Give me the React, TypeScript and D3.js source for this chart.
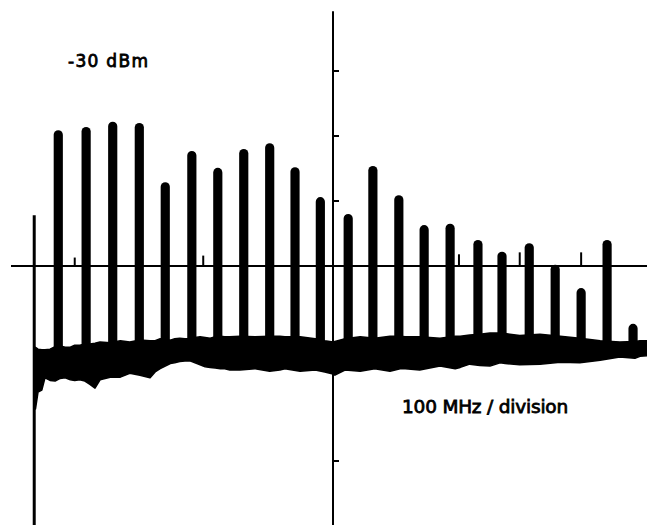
import { scaleLinear, area as d3Area, curveLinear } from "d3";

// spectrum analyser trace, 100 MHz / division, 10 dB / division
const spikeFreq = [
  66, 110, 152, 194, 235, 277, 318, 359, 400, 440, 480, 524, 563, 604, 644, 685,
  729, 767, 810, 851, 892, 933, 974,
];
const spikeLevel = [
  -49.1, -48.6, -47.8, -48.0, -57.1, -52.3, -54.9, -52.0, -51.1, -54.8, -59.4,
  -62.0, -54.6, -59.1, -63.7, -63.5, -66.0, -67.8, -66.5, -69.8, -73.4, -66.0,
  -78.9,
];

// small spurs sitting on the reference line
const spurFreq = [92, 295, 699, 795, 892];
const spurLevel = [-68.7, -68.4, -68.2, -67.9, -67.9];

// start of sweep
const startFreq = 28;
const startLevel = -62.2;

// noise floor band
const noiseFreq = [
  30, 34, 40, 45, 53, 61, 69, 77, 85, 92, 100, 108, 116, 124, 132, 148, 164, 179,
  195, 211, 219, 227, 235, 243, 250, 258, 266, 274, 282, 290, 298, 306, 314, 322,
  329, 337, 353, 377, 400, 416, 424, 448, 472, 487, 500, 503, 519, 543, 566, 590,
  606, 614, 637, 669, 693, 701, 716, 732, 748, 764, 772, 795, 827, 859, 890, 922,
  953, 977, 985, 996,
];
const noiseTop = [
  -82.5, -82.8, -82.9, -82.9, -82.8, -82.4, -82.3, -82.5, -82.5, -82.2, -82.2,
  -82.0, -82.0, -81.9, -81.7, -81.8, -81.5, -81.7, -81.4, -81.5, -81.5, -81.2,
  -81.4, -81.4, -81.2, -81.1, -81.2, -81.2, -81.0, -80.9, -81.0, -81.1, -80.9,
  -80.8, -80.9, -80.9, -80.8, -80.9, -80.8, -80.8, -80.9, -80.9, -81.2, -81.5,
  -81.7, -81.6, -81.2, -80.9, -81.1, -80.8, -80.8, -80.9, -80.9, -81.1, -80.8,
  -80.8, -80.6, -80.5, -80.3, -80.3, -80.4, -80.7, -80.5, -80.8, -81.1, -81.5,
  -81.7, -81.6, -81.5, -81.5,
];
const noiseBottom = [
  -92.0, -89.4, -89.1, -87.2, -87.6, -87.7, -87.3, -87.2, -87.5, -87.6, -87.5,
  -87.7, -88.2, -88.8, -87.5, -87.1, -87.1, -86.5, -86.8, -87.2, -86.3, -85.8,
  -85.4, -85.0, -84.9, -84.7, -84.6, -84.6, -84.9, -85.2, -85.5, -85.6, -85.7,
  -85.8, -85.8, -86.0, -86.0, -85.8, -86.2, -86.0, -85.8, -86.2, -86.0, -86.3,
  -86.6, -86.8, -86.0, -86.2, -85.8, -86.2, -85.8, -85.8, -86.0, -85.4, -85.8,
  -85.6, -85.1, -85.3, -85.4, -84.9, -85.0, -85.2, -85.1, -84.8, -84.9, -84.5,
  -84.0, -84.2, -83.9, -83.8,
];

const refLevel = -70;
const centerFreq = 500;
const levelTicks = [-40, -50, -60, -100];
const topLabel = "-30 dBm";
const spanLabel = "100 MHz / division";

export default function App() {
  const width = 647;
  const height = 525;

  const xScale = scaleLinear().domain([0, 1000]).range([16.5, 649.5]);
  const yScale = scaleLinear().domain([-30, -110]).range([6, 526]);

  const bandwidth = 14.5;
  const spikeBase = -84;

  const noise = noiseFreq.map((f, i) => ({
    f,
    top: noiseTop[i],
    bottom: noiseBottom[i],
  }));
  const noiseArea = d3Area<{ f: number; top: number; bottom: number }>()
    .x((d) => xScale(d.f))
    .y0((d) => yScale(d.bottom))
    .y1((d) => yScale(d.top))
    .curve(curveLinear);

  const spikePath = (f: number, level: number) => {
    const x0 = xScale(f - bandwidth / 2);
    const x1 = xScale(f + bandwidth / 2);
    const r = (x1 - x0) / 2;
    const top = yScale(level);
    const bottom = yScale(spikeBase);
    return `M${x0},${bottom} L${x0},${top + r} A${r},${r} 0 0 1 ${x1},${top + r} L${x1},${bottom} Z`;
  };

  const xCenter = xScale(centerFreq);

  return (
    <svg
      width={width}
      height={height}
      style={{ position: "absolute", left: 0, top: 0, background: "#fff" }}
    >
      {/* reference line */}
      <line
        x1={11}
        x2={width}
        y1={yScale(refLevel)}
        y2={yScale(refLevel)}
        stroke="#000"
        strokeWidth={2}
      />

      {/* centre graticule line */}
      <line
        x1={xCenter}
        x2={xCenter}
        y1={yScale(-30.8)}
        y2={height}
        stroke="#000"
        strokeWidth={2}
      />
      {levelTicks.map((t) => (
        <line
          key={`tick-${t}`}
          x1={xCenter}
          x2={xCenter + 6}
          y1={yScale(t)}
          y2={yScale(t)}
          stroke="#000"
          strokeWidth={2}
        />
      ))}

      {/* sweep start */}
      <line
        x1={xScale(startFreq)}
        x2={xScale(startFreq)}
        y1={yScale(startLevel)}
        y2={height}
        stroke="#000"
        strokeWidth={3}
      />

      <path
        d={noiseArea(noise) ?? ""}
        fill="#000"
        stroke="#000"
        strokeWidth={1.5}
        strokeLinejoin="round"
      />

      {spurFreq.map((f, i) => (
        <line
          key={`spur-${i}`}
          x1={xScale(f)}
          x2={xScale(f)}
          y1={yScale(spurLevel[i])}
          y2={yScale(refLevel)}
          stroke="#000"
          strokeWidth={2}
        />
      ))}

      {spikeFreq.map((f, i) => (
        <path key={`spike-${i}`} d={spikePath(f, spikeLevel[i])} fill="#000" />
      ))}

      <text
        x={68}
        y={67}
        fontFamily="DejaVu Sans"
        fontSize={17}
        letterSpacing={1.3}
        stroke="#000"
        strokeWidth={0.8}
        fill="#000"
      >
        {topLabel}
      </text>
      <text
        x={402}
        y={413}
        fontFamily="DejaVu Sans"
        fontSize={18.5}
        letterSpacing={-0.2}
        stroke="#000"
        strokeWidth={0.8}
        fill="#000"
      >
        {spanLabel}
      </text>
    </svg>
  );
}
